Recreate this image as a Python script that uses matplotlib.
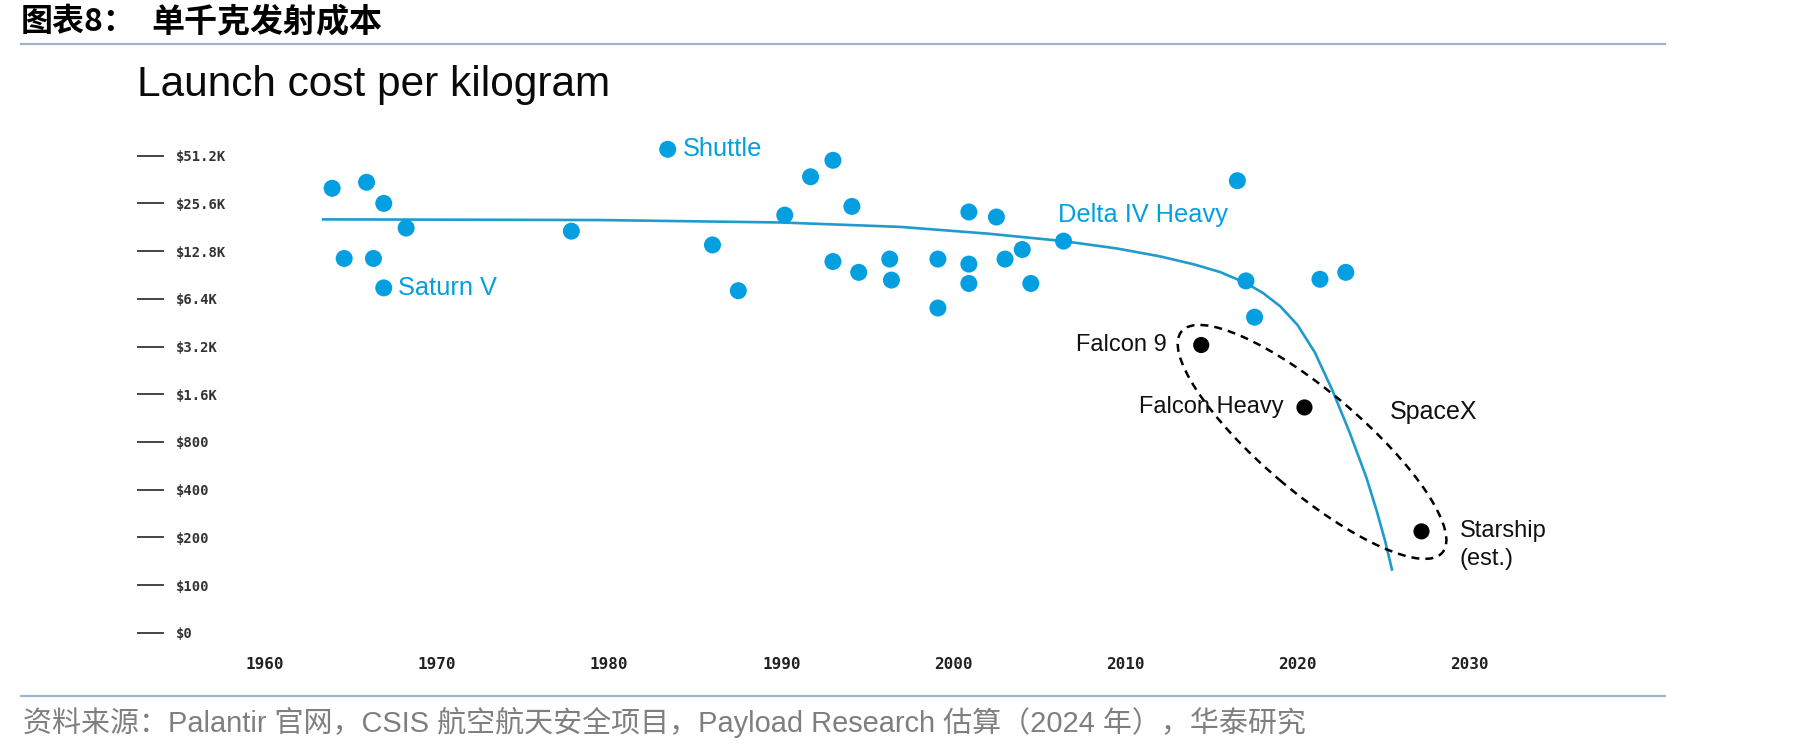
import matplotlib
matplotlib.use('Agg')
import matplotlib.pyplot as plt
from matplotlib.patches import Ellipse
from matplotlib.lines import Line2D
from matplotlib.transforms import ScaledTranslation, blended_transform_factory
from matplotlib.ticker import NullLocator

# ---------------- data ----------------
tick_values = [50, 100, 200, 400, 800, 1600, 3200, 6400, 12800, 25600, 51200]
tick_labels = [r'\$0', r'\$100', r'\$200', r'\$400', r'\$800', r'\$1.6K', r'\$3.2K',
               r'\$6.4K', r'\$12.8K', r'\$25.6K', r'\$51.2K']
year_ticks = [1960, 1970, 1980, 1990, 2000, 2010, 2020, 2030]

blue_names = ['', '', '', '', '', '', '', 'Saturn V', 'Shuttle', '', '', '', '', '', '',
              'Delta IV Heavy', '', '', '', '', '', '', '', '', '', '', '', '', '',
              '', '', '', '', '']
blue_years = [1963.9, 1965.9, 1966.9, 1968.2, 1977.8, 1964.6, 1966.3, 1966.9, 1983.4,
              1993.0, 1991.7, 1994.1, 1990.2, 2000.9, 2002.5, 2006.4, 1986.0, 1987.5,
              1993.0, 1994.5, 1996.3, 1996.4, 1999.1, 1999.1, 2000.9, 2000.9, 2003.0,
              2004.0, 2004.5, 2016.5, 2017.0, 2021.3, 2022.8, 2017.5]
blue_costs = [31900, 34800, 25600, 17900, 17100, 11500, 11500, 7500, 56200,
              47900, 37700, 24500, 21600, 22600, 21000, 14800, 14000, 7200,
              11000, 9400, 11400, 8400, 11400, 5600, 10600, 8000, 11400,
              13100, 8000, 35600, 8300, 8500, 9400, 4900]

spacex_names = ['Falcon 9', 'Falcon Heavy', 'Starship']
spacex_years = [2014.4, 2020.4, 2027.2]
spacex_costs = [3270, 1320, 218]

trend_years = [1963.3, 1979.5, 1990.0, 1996.9, 2002.0, 2006.4, 2009.5, 2012.0, 2014.0,
               2015.5, 2017.0, 2018.0, 2019.0, 2020.0, 2021.0, 2022.0, 2023.0, 2024.0,
               2024.6, 2025.1, 2025.5]
trend_costs = [20300, 20100, 19400, 18200, 16500, 14800, 13300, 11860, 10540,
               9440, 8050, 6950, 5730, 4370, 2940, 1715, 932, 476,
               293, 187, 123]

# ---------------- styles ----------------
BLUE = '#049fe0'
LINE = '#1f9bcc'
W, H = 1819, 752
SANS = ['Liberation Sans', 'DejaVu Sans']
CJK = ['Noto Sans CJK SC', 'DejaVu Sans']
MONO = ['DejaVu Sans Mono']

fig = plt.figure(figsize=(W / 100, H / 100), dpi=100)
fig.patch.set_facecolor('white')

ax_l, ax_r = 230.6, 1504.1
ax_t, ax_b = 131.85, 651.8
ax = fig.add_axes([ax_l / W, 1 - ax_b / H, (ax_r - ax_l) / W, (ax_b - ax_t) / H])
ax.set_yscale('log', base=2)
ax.set_xlim(1958, 2032)
ax.set_ylim(50 * 2 ** -0.4, 50 * 2 ** 10.5)
for s in ax.spines.values():
    s.set_visible(False)

# trend line
ax.plot(trend_years, trend_costs, color=LINE, lw=1.9, solid_capstyle='butt',
        solid_joinstyle='round', zorder=2)

# blue scatter
ax.scatter(blue_years, blue_costs, s=150, color=BLUE, edgecolors='none', zorder=3)
# SpaceX scatter
ax.scatter(spacex_years, spacex_costs, s=135, color='black', edgecolors='none', zorder=4)

# ellipse around SpaceX (size in inches, centred in data coords)
ell = Ellipse((0, 0), 3.42, 1.0, angle=-40.3, fill=False, ec='black', lw=1.8,
              ls=(0, (3.2, 2.4)),
              transform=fig.dpi_scale_trans + ScaledTranslation(2020.84, 800, ax.transData),
              zorder=3)
ax.add_patch(ell)

# labels for blue points
label_offsets = {'Saturn V': ((10.6, 0), 'left'),
                 'Shuttle': ((11, 0), 'left'),
                 'Delta IV Heavy': ((-4, 18.7), 'left')}
for name, yr, cost in zip(blue_names, blue_years, blue_costs):
    if name:
        off, ha = label_offsets[name]
        ax.annotate(name, (yr, cost), xytext=off, textcoords='offset points',
                    ha=ha, va='center', fontsize=18.3, color=BLUE, family=SANS)

# labels for SpaceX points
sx_offsets = [((-25, 0), 'right'), ((-15, 0), 'right'), ((27.6, 0), 'left')]
for name, yr, cost, (off, ha) in zip(spacex_names, spacex_years, spacex_costs, sx_offsets):
    ax.annotate(name, (yr, cost), xytext=off, textcoords='offset points',
                ha=ha, va='center', fontsize=17, color='#111111', family=SANS)
ax.annotate('(est.)', (spacex_years[2], spacex_costs[2]), xytext=(27.6, -19.9),
            textcoords='offset points', ha='left', va='center', fontsize=17,
            color='#111111', family=SANS)
ax.annotate('SpaceX', (spacex_years[1], spacex_costs[1]), xytext=(61.7, -3.6),
            textcoords='offset points', ha='left', va='center', fontsize=18,
            color='#111111', family=SANS)

# y ticks: label left-aligned, short dash drawn to the left of each label
ax.set_yticks(tick_values, tick_labels)
ax.yaxis.set_minor_locator(NullLocator())
ax.tick_params(axis='y', length=0, pad=39.3, labelsize=10, labelcolor='#333333')
for lbl in ax.get_yticklabels():
    lbl.set_ha('left')
    lbl.set_family(MONO)
    lbl.set_weight('bold')
trans = blended_transform_factory(ax.transAxes, ax.transData)
ax.hlines(tick_values, (137 - ax_l) / (ax_r - ax_l), (164 - ax_l) / (ax_r - ax_l),
          transform=trans, color='#444444', lw=1.4, clip_on=False)

# x ticks
ax.set_xticks(year_ticks, [str(y) for y in year_ticks])
ax.tick_params(axis='x', length=0, pad=4, labelsize=11.5, labelcolor='#222222')
for lbl in ax.get_xticklabels():
    lbl.set_family(MONO)
    lbl.set_weight('bold')

# ---------------- header / footer ----------------
fig.text(21 / W, 1 - 22 / H, '图表8：', fontsize=23, fontweight='bold', va='center',
         ha='left', family=CJK, color='black')
fig.text(151 / W, 1 - 22 / H, '单千克发射成本', fontsize=23.8, fontweight='bold',
         va='center', ha='left', family=CJK, color='black')
fig.add_artist(Line2D([21 / W, 1665 / W], [1 - 44 / H] * 2, color='#9db3cc', lw=1.6))
fig.text(137 / W, 1 - 96 / H, 'Launch cost per kilogram', fontsize=30.5, va='baseline',
         ha='left', family=SANS, color='#0a0a0a')
fig.add_artist(Line2D([21 / W, 1665 / W], [1 - 696 / H] * 2, color='#9db3cc', lw=1.6))
fig.text(23 / W, 1 - 722 / H,
         '资料来源：Palantir 官网，CSIS 航空航天安全项目，Payload Research 估算（2024 年），华泰研究',
         fontsize=20.9, va='center', ha='left', family=['Liberation Sans', 'Noto Sans CJK SC'],
         color='#7f7f7f')

fig.savefig('out.png', dpi=100, facecolor='white')
